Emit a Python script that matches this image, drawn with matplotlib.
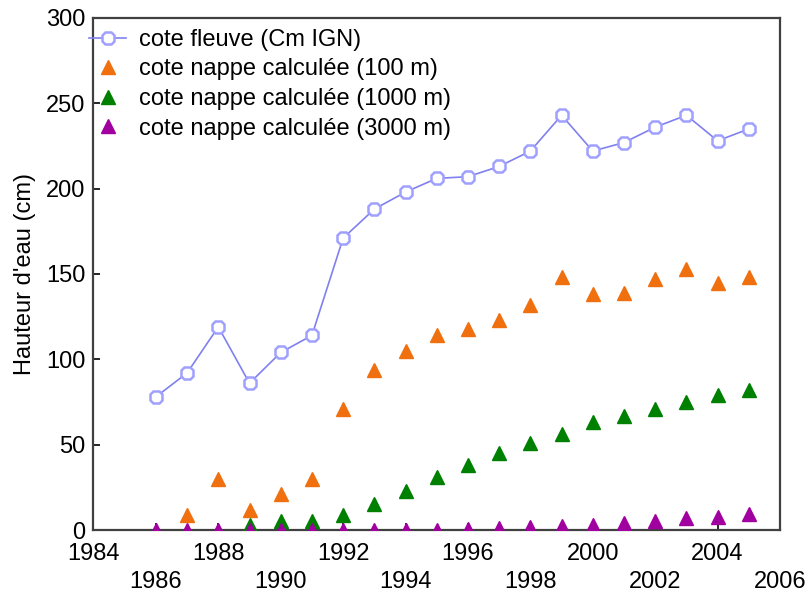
import numpy as np
import matplotlib
matplotlib.use('Agg')
import matplotlib.pyplot as plt

plt.rcParams['font.family'] = ['Liberation Sans', 'DejaVu Sans']

years_fleuve = list(range(1986, 2006))
fleuve = [78, 92, 119, 86, 104, 114, 171, 188, 198, 206, 207, 213, 222, 243, 222, 227, 236, 243, 228, 235]

years_100 = list(range(1987, 2006))
nappe_100 = [9, 30, 12, 21, 30, 71, 94, 105, 114, 118, 123, 132, 148, 138, 139, 147, 153, 145, 148]

years_1000 = list(range(1989, 2006))
nappe_1000 = [3, 5, 5, 9, 15, 23, 31, 38, 45, 51, 56, 63, 67, 71, 75, 79, 82]

years_3000 = list(range(1986, 2006))
nappe_3000 = [0, 0, 0, 0, 0, 0, 0, 0, 0, 0, 0.5, 1, 1.5, 2.5, 3, 4, 5.5, 7, 7.5, 9.5]

xticks = list(range(1984, 2007, 2))
yticks = [0, 50, 100, 150, 200, 250, 300]

fig = plt.figure(figsize=(8.1, 5.92), dpi=100)
ax = fig.add_axes([0.1154, 0.1047, 0.8476, 0.865])

ax.plot(years_fleuve, fleuve, color='#8080f0', lw=1.2, marker='8', ms=10,
        mfc='white', mec='#a0a0ff', mew=1.8, label='cote fleuve (Cm IGN)', zorder=3)
ax.plot(years_100, nappe_100, ls='none', marker='^', ms=10, color='#f07010',
        label='cote nappe calculée (100 m)', zorder=3)
ax.plot(years_1000, nappe_1000, ls='none', marker='^', ms=10, color='#008000',
        label='cote nappe calculée (1000 m)', zorder=3)
ax.plot(years_3000, nappe_3000, ls='none', marker='^', ms=10, color='#a000a0',
        label='cote nappe calculée (3000 m)', zorder=3)

ax.set_xlim(1984, 2006)
ax.set_ylim(0, 300)
ax.set_xticks(xticks)
ax.set_xticklabels([str(y) if i % 2 == 0 else '\n' + str(y) for i, y in enumerate(xticks)])
for t in ax.get_xticklabels():
    t.set_linespacing(1.4)
ax.set_yticks(yticks)
ax.tick_params(axis='x', direction='in', length=5, width=1.2, labelsize=17, pad=9)
ax.tick_params(axis='y', direction='in', length=5, width=1.2, labelsize=17, pad=6)
ax.set_ylabel("Hauteur d'eau (cm)", fontsize=17, labelpad=7)

for s in ax.spines.values():
    s.set_color('#404040')
    s.set_linewidth(1.6)

ax.legend(loc='upper left', frameon=False, fontsize=17, handlelength=1.57,
          handletextpad=0.55, labelspacing=0.32, borderaxespad=0.0,
          bbox_to_anchor=(-0.02, 0.997))

fig.savefig('out.png', dpi=100)
